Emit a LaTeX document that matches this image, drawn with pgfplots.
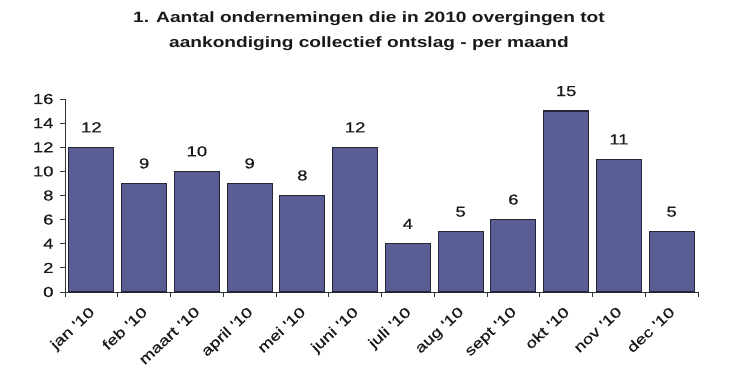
\documentclass[border=0pt]{standalone}
\usepackage{pgfplots}
\pgfplotsset{compat=1.18}
\usepackage{fontspec}
\setmainfont{Liberation Sans}[FakeStretch=1.28]
\newfontfamily\tickfont{Liberation Sans}[FakeStretch=1.28, FakeBold=0.6]
\definecolor{barc}{HTML}{5A5C94}
\definecolor{edgec}{HTML}{25253A}
\definecolor{axc}{HTML}{333333}
\begin{document}
\begin{tikzpicture}[x=1bp,y=1bp]
\useasboundingbox (0,0) rectangle (738,378);
\node[font=\fontsize{15}{25}\selectfont\bfseries, align=center, text=black!90] at (369,347) {1. Aantal ondernemingen die in 2010 overgingen tot\\aankondiging collectief ontslag - per maand};
\begin{axis}[
  at={(65bp,86bp)}, anchor=south west,
  scale only axis, width=633bp, height=193bp,
  xmin=-0.5, xmax=11.5, ymin=0, ymax=16,
  axis lines*=left, axis line style={-, draw=axc, line width=1pt},
  ytick={0,2,...,16},
  xtick={0,...,11},
  xticklabels={jan '10,feb '10,maart '10,april '10,mei '10,juni '10,juli '10,aug '10,sept '10,okt '10,nov '10,dec '10},
  major x tick style={draw=none},
  minor xtick={-0.5,0.5,...,11.5},
  minor x tick style={draw=axc, line width=1pt},
  major y tick style={draw=axc, line width=1pt},
  tick align=outside, major tick length=5bp, minor tick length=5bp,
  tick label style={font=\tickfont\fontsize{14.5}{16}\selectfont, text=black!90},
  /pgf/number format/assume math mode=true,
  yticklabel style={xshift=-3bp},
  xticklabel style={rotate=43, anchor=north east, inner sep=1bp, xshift=-7bp, yshift=-3bp},
  ybar, bar width=45bp,
  nodes near coords,
  nodes near coords style={font=\tickfont\fontsize{14.5}{16}\selectfont, text=black!90, yshift=11bp},
]
\addplot[fill=barc, draw=edgec, line width=1.2pt] coordinates {
(0,12) (1,9) (2,10) (3,9) (4,8) (5,12) (6,4) (7,5) (8,6) (9,15) (10,11) (11,5)};
\end{axis}
\end{tikzpicture}
\end{document}
